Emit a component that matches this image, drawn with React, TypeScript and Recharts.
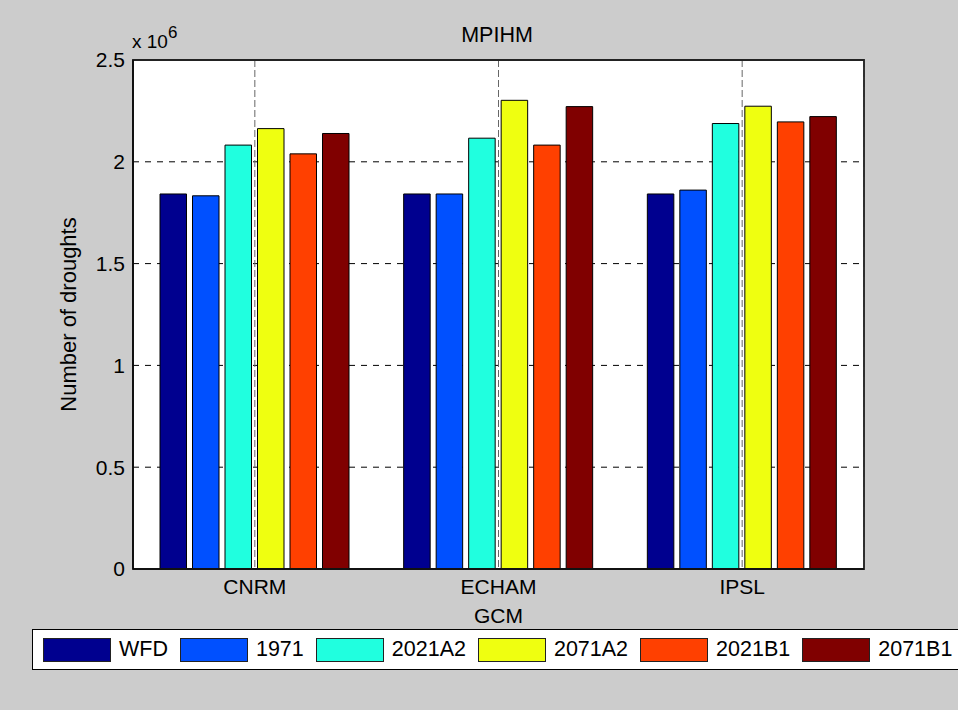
import React from 'react';
import { BarChart, Bar, XAxis, YAxis, CartesianGrid, ReferenceArea } from 'recharts';

// Global climate models on the x axis
const gcms = ['CNRM', 'ECHAM', 'IPSL'];

// Scenario series (number of droughts)
const seriesNames = ['WFD', '1971', '2021A2', '2071A2', '2021B1', '2071B1'];
const seriesColors = ['#00008F', '#0050FF', '#20FFDF', '#EFFF10', '#FF4000', '#800000'];

const wfd = [1842000, 1842000, 1842000];
const base1971 = [1833000, 1842000, 1861000];
const a2of2021 = [2082000, 2116000, 2188000];
const a2of2071 = [2163000, 2302000, 2273000];
const b1of2021 = [2039000, 2082000, 2196000];
const b1of2071 = [2139000, 2271000, 2222000];

const yTicks = [0, 500000, 1000000, 1500000, 2000000, 2500000];
const yMin = 0;
const yMax = 2500000;

const seriesValues = [wfd, base1971, a2of2021, a2of2071, b1of2021, b1of2071];

const data = gcms.map((gcm, i) => {
  const row: Record<string, string | number> = { gcm };
  seriesNames.forEach((name, s) => {
    row[name] = seriesValues[s][i];
  });
  return row;
});

const FONT = "'Liberation Sans', Arial, Helvetica, sans-serif";

const formatMillions = (v: number) => String(v / 1e6);

function ScenarioLegend() {
  return (
    <div
      style={{
        position: 'absolute',
        left: 32,
        top: 629,
        width: 960,
        height: 39,
        background: '#fff',
        border: '1px solid #000',
        display: 'flex',
        alignItems: 'center',
        paddingLeft: 10,
        boxSizing: 'content-box',
        fontFamily: FONT,
        fontSize: 21.5,
        color: '#000',
        whiteSpace: 'nowrap',
      }}
    >
      {seriesNames.map((name, i) => (
        <div key={name} style={{ display: 'flex', alignItems: 'center', marginRight: 12 }}>
          <div
            style={{
              width: 66,
              height: 22,
              background: seriesColors[i],
              border: '1px solid #222',
              marginRight: 8,
            }}
          />
          <span>{name}</span>
        </div>
      ))}
    </div>
  );
}

export default function App() {
  return (
    <div
      style={{
        position: 'absolute',
        left: 0,
        top: 0,
        width: 958,
        height: 710,
        background: '#cccccc',
        overflow: 'hidden',
        fontFamily: FONT,
      }}
    >
      <BarChart
        width={958}
        height={710}
        data={data}
        margin={{ top: 60, right: 94, bottom: 81, left: 73 }}
        barSize={26.5}
        barGap={6}
      >
        <CartesianGrid
          fill="#ffffff"
          vertical={false}
          stroke="#000"
          strokeDasharray="6 6"
          horizontalValues={yTicks}
        />
        <CartesianGrid
          horizontal={false}
          stroke="#666"
          strokeDasharray="7 3"
        />
        <XAxis
          dataKey="gcm"
          height={60}
          tickLine={false}
          tickSize={6}
          tickMargin={4}
          axisLine={{ stroke: '#111', strokeWidth: 2 }}
          tick={{ fill: '#000', fontSize: 21, fontFamily: FONT }}
          label={{ value: 'GCM', position: 'insideBottom', offset: 6, fill: '#000', fontSize: 21, fontFamily: FONT }}
        />
        <YAxis
          width={60}
          domain={[yMin, yMax]}
          ticks={yTicks}
          tickFormatter={formatMillions}
          tickLine={false}
          tickSize={6}
          tickMargin={2}
          axisLine={{ stroke: '#000', strokeWidth: 1.3 }}
          tick={{ fill: '#000', fontSize: 21, fontFamily: FONT }}
          label={{ value: 'Number of droughts', angle: -90, position: 'center', dx: -35, fill: '#000', fontSize: 22, fontFamily: FONT }}
        />
        {seriesNames.map((name, i) => (
          <Bar
            key={name}
            dataKey={name}
            fill={seriesColors[i]}
            stroke="#000"
            strokeWidth={1}
            isAnimationActive={false}
          />
        ))}
        {/* axes box spanning the full value range and all categories */}
        <ReferenceArea
          y1={yMin}
          y2={yMax}
          fill="#ffffff"
          fillOpacity={0}
          stroke="#222"
          strokeWidth={1.8}
          ifOverflow="visible"
        />
      </BarChart>
      <svg
        width={958}
        height={710}
        style={{ position: 'absolute', left: 0, top: 0, pointerEvents: 'none' }}
      >
        <text x={497} y={41.5} textAnchor="middle" fontSize={21.5} fontFamily={FONT} fill="#000">
          MPIHM
        </text>
        <text x={132} y={48} fontSize={19} fontFamily={FONT} fill="#000">
          x 10
          <tspan fontSize={17} dy={-10}>6</tspan>
        </text>
      </svg>
      <ScenarioLegend />
    </div>
  );
}
